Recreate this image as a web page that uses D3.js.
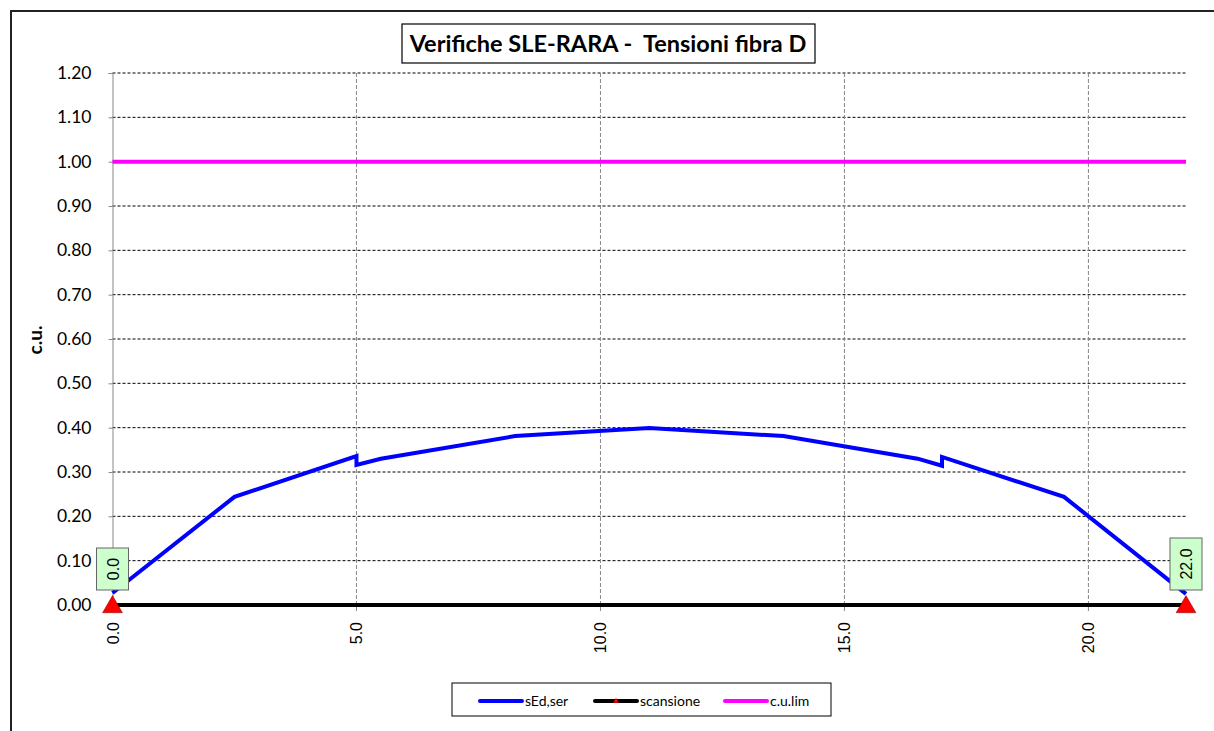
<!DOCTYPE html>
<html>
<head>
<meta charset="utf-8">
<script src="https://cdn.jsdelivr.net/npm/d3@7"></script>
<style>
  body { margin: 0; background: #fff; }
  text { font-family: Lato, "Open Sans", sans-serif; }
  .xtick { font-family: "Liberation Sans", Arial, sans-serif; }
</style>
</head>
<body>
<svg width="1214" height="731"></svg>
<script>
// section abscissae (m) and stress ratio sEd,ser / c.u.
var xs     = [0.0, 2.5, 5.0, 5.0, 5.5, 8.25, 11.0, 13.75, 16.5, 17.0, 17.0, 19.5, 22.0];
var sEd    = [0.027, 0.244, 0.336, 0.316, 0.330, 0.381, 0.399, 0.381, 0.330, 0.314, 0.334, 0.244, 0.025];
var scanX  = [0.0, 22.0];
var scanY  = [0.0, 0.0];
var limX   = [0.0, 22.0];
var limY   = [1.0, 1.0];
var xTicks = [0, 5, 10, 15, 20];
var yTicks = [0, 0.1, 0.2, 0.3, 0.4, 0.5, 0.6, 0.7, 0.8, 0.9, 1.0, 1.1, 1.2];
var legendNames = ["sEd,ser", "scansione", "c.u.lim"];

var svg = d3.select("svg");

// outer chart border
svg.append("rect")
    .attr("x", 11).attr("y", 11)
    .attr("width", 1220).attr("height", 740)
    .attr("fill", "none").attr("stroke", "#222").attr("stroke-width", 2);

var x = d3.scaleLinear().domain([0, 22]).range([112.5, 1186]);
var y = d3.scaleLinear().domain([0, 1.2]).range([605, 73]);

// horizontal grid
svg.append("g").selectAll("line")
    .data(yTicks.filter(d => d > 0))
    .enter().append("line")
    .attr("x1", x(0)).attr("x2", x(22))
    .attr("y1", d => y(d)).attr("y2", d => y(d))
    .attr("stroke", "#000").attr("stroke-width", 1)
    .attr("stroke-dasharray", "3,2");

// vertical grid
svg.append("g").selectAll("line")
    .data(xTicks.filter(d => d > 0))
    .enter().append("line")
    .attr("x1", d => x(d)).attr("x2", d => x(d))
    .attr("y1", y(1.2)).attr("y2", y(0) + 6)
    .attr("stroke", "#888").attr("stroke-width", 1)
    .attr("stroke-dasharray", "4,2");

// y axis
var yAxis = d3.axisLeft(y).tickValues(yTicks).tickSize(4)
    .tickFormat(d3.format(".2f"));
var ya = svg.append("g")
    .attr("transform", "translate(" + x(0) + ",0)")
    .call(yAxis);
ya.select(".domain").attr("stroke", "#888");
ya.selectAll(".tick line").attr("stroke", "#888");
ya.selectAll(".tick text")
    .attr("x", -21)
    .style("font-family", "Lato, sans-serif")
    .style("font-size", "17.5px").attr("fill", "#000");

// x tick labels (rotated)
svg.append("g").selectAll("text")
    .data(xTicks)
    .enter().append("text")
    .attr("class", "xtick")
    .attr("transform", d => "translate(" + (x(d) + 6) + "," + (y(0) + 17) + ") rotate(-90)")
    .attr("text-anchor", "end")
    .style("font-size", "16px")
    .text(d => d3.format(".1f")(d));

// y axis title
svg.append("text")
    .attr("transform", "translate(42,340) rotate(-90)")
    .attr("text-anchor", "middle")
    .style("font-size", "19px").style("font-weight", "bold")
    .text("c.u.");

var line = d3.line().x(d => x(d[0])).y(d => y(d[1]));

// c.u.lim
svg.append("path")
    .datum(d3.zip(limX, limY))
    .attr("d", line)
    .attr("fill", "none").attr("stroke", "#FF00FF").attr("stroke-width", 4);

// scansione
svg.append("path")
    .datum(d3.zip(scanX, scanY))
    .attr("d", line)
    .attr("fill", "none").attr("stroke", "#000").attr("stroke-width", 4);

// sEd,ser
svg.append("path")
    .datum(d3.zip(xs, sEd))
    .attr("d", line)
    .attr("fill", "none").attr("stroke", "#0000FF").attr("stroke-width", 4)
    .attr("stroke-linejoin", "miter");

// triangles on scansione
var tri = d3.symbol().type(d3.symbolTriangle).size(170);
svg.append("g").selectAll("path")
    .data(d3.zip(scanX, scanY))
    .enter().append("path")
    .attr("d", tri)
    .attr("transform", d => "translate(" + x(d[0]) + "," + (y(d[1]) + 2) + ")")
    .attr("fill", "#FF0000").attr("stroke", "#800000").attr("stroke-width", 0.5);

// labels over scansione points
var lab = svg.append("g").selectAll("g")
    .data(scanX)
    .enter().append("g")
    .attr("transform", d => "translate(" + x(d) + "," + (y(0) - 15) + ")");
lab.each(function(d) {
    var g = d3.select(this);
    var s = d3.format(".1f")(d);
    var h = s.length * 10 + 12;
    g.append("rect")
        .attr("x", -16).attr("y", -h).attr("width", 32).attr("height", h)
        .attr("fill", "#CCFFCC").attr("stroke", "#666").attr("stroke-width", 1);
    g.append("text")
        .attr("transform", "translate(6," + (-h / 2) + ") rotate(-90)")
        .attr("text-anchor", "middle")
        .attr("class", "xtick")
        .style("font-size", "16px")
        .text(s);
});

// title
svg.append("rect")
    .attr("x", 402).attr("y", 24).attr("width", 413).attr("height", 39)
    .attr("fill", "#fff").attr("stroke", "#000").attr("stroke-width", 1.2);
svg.append("text")
    .attr("x", 608).attr("y", 52)
    .attr("text-anchor", "middle")
    .style("font-size", "23.5px").style("font-weight", "bold")
    .style("white-space", "pre")
    .text("Verifiche SLE-RARA -  Tensioni fibra D");

// legend
svg.append("rect")
    .attr("x", 452).attr("y", 683).attr("width", 379).attr("height", 33)
    .attr("fill", "#fff").attr("stroke", "#000").attr("stroke-width", 1);
var legColors = ["#0000FF", "#000", "#FF00FF"];
var legX = [479, 594, 724];
var leg = svg.append("g").selectAll("g")
    .data(legendNames)
    .enter().append("g")
    .attr("transform", (d, i) => "translate(" + legX[i] + ",701)");
leg.append("line")
    .attr("x1", 1).attr("x2", 43)
    .attr("stroke-linecap", "round")
    .attr("stroke", (d, i) => legColors[i]).attr("stroke-width", 4);
leg.filter((d, i) => i === 1).append("path")
    .attr("d", d3.symbol().type(d3.symbolTriangle).size(14))
    .attr("transform", "translate(22,0)")
    .attr("fill", "#FF0000");
leg.append("text")
    .attr("x", 46).attr("y", 5)
    .style("font-size", "14px")
    .text(d => d);
</script>
</body>
</html>
